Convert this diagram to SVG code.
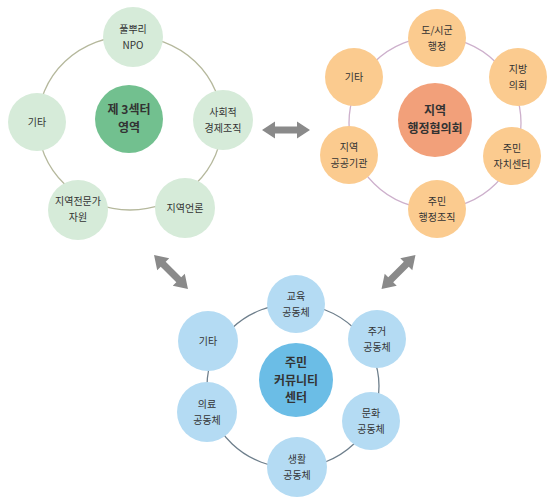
<svg xmlns="http://www.w3.org/2000/svg" xmlns:xlink="http://www.w3.org/1999/xlink" width="547" height="501" viewBox="0 0 547 501">
<style>
text{font-family:"Noto Sans CJK KR","Noto Sans",sans-serif;fill:#333;text-anchor:middle}
.s{font-size:10px}
.c{font-size:12px;font-weight:bold}
.gs{fill:#d6ebd9}.gc{fill:#72c08f}
.os{fill:#fbcb8f}.oc{fill:#f2a07a}
.bs{fill:#b4dbf3}.bc{fill:#6bbde6}
.ring{fill:none;stroke-width:1.3}
.arr{fill:#8a8a8a}
</style>
<defs>
<path id="dbl" d="M-24,0 L-11,-8.5 L-11,-3.5 L11,-3.5 L11,-8.5 L24,0 L11,8.5 L11,3.5 L-11,3.5 L-11,8.5 Z"/>
</defs>
<g id="rings">
<ellipse class="ring" cx="130" cy="123" rx="92" ry="87" stroke="#b5b89c"/>
<circle class="ring" cx="435" cy="123" r="86" stroke="#cdb0cc"/>
<ellipse class="ring" cx="293" cy="386" rx="86" ry="82" stroke="#6e7f8c"/>
</g>
<g id="connectors" class="arr">
<use xlink:href="#dbl" transform="translate(286,130)"/>
<use xlink:href="#dbl" transform="translate(171,272) rotate(45)"/>
<use xlink:href="#dbl" transform="translate(398.5,272) rotate(-45)"/>
</g>
<g id="g-center"><circle class="gc" cx="129" cy="119" r="34"/><text class="c" x="129" y="114">제 3섹터</text><text class="c" x="129" y="132">영역</text></g>
<g id="g-npo"><circle class="gs" cx="133" cy="37" r="30"/><text class="s" x="133" y="33">풀뿌리</text><text class="s" x="133" y="49">NPO</text></g>
<g id="g-social"><circle class="gs" cx="223" cy="120" r="30"/><text class="s" x="223" y="116">사회적</text><text class="s" x="223" y="132">경제조직</text></g>
<g id="g-media"><circle class="gs" cx="185" cy="208" r="30"/><text class="s" x="185" y="212">지역언론</text></g>
<g id="g-expert"><circle class="gs" cx="78" cy="210" r="30"/><text class="s" x="78" y="205">지역전문가</text><text class="s" x="78" y="221">자원</text></g>
<g id="g-etc"><circle class="gs" cx="37" cy="122" r="29"/><text class="s" x="37" y="126">기타</text></g>

<g id="o-center"><circle class="oc" cx="435" cy="120" r="37"/><text class="c" x="435" y="115">지역</text><text class="c" x="435" y="133">행정협의회</text></g>
<g id="o-city"><circle class="os" cx="437" cy="38" r="29"/><text class="s" x="437" y="34">도/시군</text><text class="s" x="437" y="50">행정</text></g>
<g id="o-council"><circle class="os" cx="518" cy="77" r="29"/><text class="s" x="518" y="73">지방</text><text class="s" x="518" y="89">의회</text></g>
<g id="o-etc"><circle class="os" cx="354" cy="77" r="29"/><text class="s" x="354" y="81">기타</text></g>
<g id="o-public"><circle class="os" cx="349" cy="155" r="29"/><text class="s" x="349" y="151">지역</text><text class="s" x="349" y="167">공공기관</text></g>
<g id="o-autonomy"><circle class="os" cx="512" cy="156" r="29"/><text class="s" x="512" y="152">주민</text><text class="s" x="512" y="168">자치센터</text></g>
<g id="o-admin"><circle class="os" cx="437" cy="209" r="29"/><text class="s" x="437" y="205">주민</text><text class="s" x="437" y="221">행정조직</text></g>

<g id="b-center"><circle class="bc" cx="296" cy="380" r="37"/><text class="c" x="296" y="367">주민</text><text class="c" x="296" y="384.5">커뮤니티</text><text class="c" x="296" y="402">센터</text></g>
<g id="b-edu"><circle class="bs" cx="296" cy="304" r="29"/><text class="s" x="296" y="300">교육</text><text class="s" x="296" y="316">공동체</text></g>
<g id="b-house"><circle class="bs" cx="377" cy="339" r="29"/><text class="s" x="377" y="335">주거</text><text class="s" x="377" y="351">공동체</text></g>
<g id="b-etc"><circle class="bs" cx="208" cy="341" r="30"/><text class="s" x="208" y="345">기타</text></g>
<g id="b-med"><circle class="bs" cx="207" cy="412" r="30"/><text class="s" x="207" y="408">의료</text><text class="s" x="207" y="424">공동체</text></g>
<g id="b-culture"><circle class="bs" cx="371" cy="421" r="29"/><text class="s" x="371" y="417">문화</text><text class="s" x="371" y="433">공동체</text></g>
<g id="b-life"><circle class="bs" cx="297" cy="467" r="30"/><text class="s" x="297" y="463">생활</text><text class="s" x="297" y="479">공동체</text></g>
</svg>
